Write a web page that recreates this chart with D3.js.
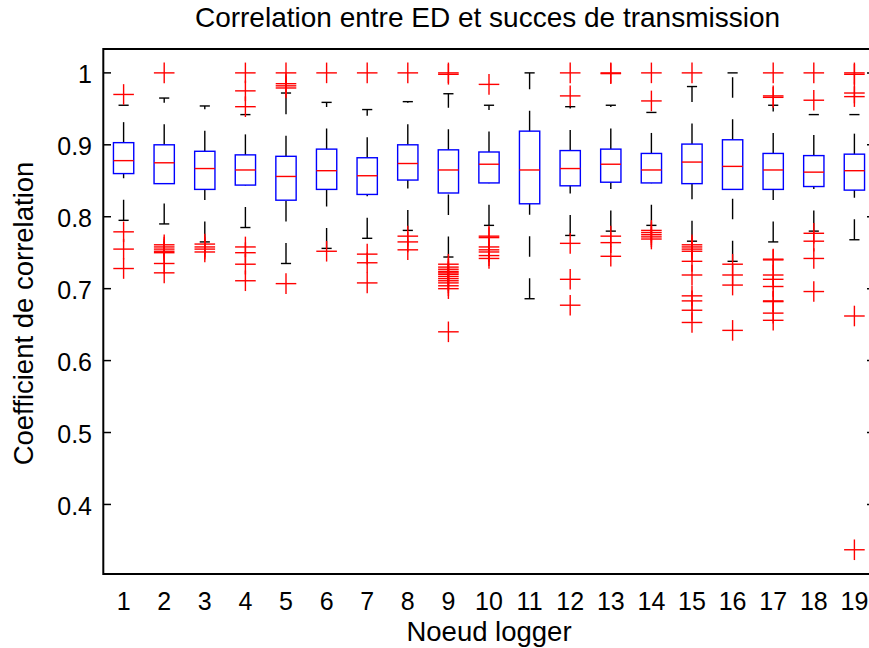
<!DOCTYPE html>
<html>
<head>
<meta charset="utf-8">
<script src="https://cdn.jsdelivr.net/npm/d3@7"></script>
<style>
  html, body { margin: 0; padding: 0; background: #fff; }
  svg { display: block; }
  text { font-family: "Liberation Sans", Arial, Helvetica, sans-serif; fill: #000; }
</style>
</head>
<body>
<svg id="chart" width="869" height="648"></svg>
<script>
// ---- data ----
const nodes = [1,2,3,4,5,6,7,8,9,10,11,12,13,14,15,16,17,18,19];
const whiskerHi = [0.955,0.965,0.954,0.942,0.972,0.959,0.949,0.960,0.971,0.955,1.000,0.953,0.955,0.945,0.981,1.000,0.955,0.942,0.942];
const q3        = [0.903,0.900,0.891,0.886,0.884,0.894,0.882,0.900,0.893,0.890,0.919,0.892,0.894,0.888,0.901,0.907,0.888,0.885,0.887];
const medians   = [0.878,0.875,0.867,0.865,0.856,0.864,0.857,0.874,0.865,0.873,0.865,0.867,0.873,0.865,0.876,0.870,0.865,0.862,0.864];
const q1        = [0.860,0.846,0.838,0.844,0.823,0.838,0.831,0.851,0.833,0.847,0.818,0.843,0.848,0.847,0.846,0.838,0.838,0.842,0.837];
const whiskerLo = [0.795,0.790,0.765,0.785,0.735,0.756,0.770,0.781,0.744,0.788,0.686,0.774,0.780,0.788,0.766,0.738,0.765,0.780,0.768];
const outliers = [
  [0.970,0.779,0.755,0.728],
  [1.0,0.761,0.758,0.755,0.752,0.750,0.735,0.722],
  [0.762,0.758,0.755,0.751],
  [1.0,0.975,0.953,0.758,0.750,0.734,0.711],
  [1.0,0.985,0.982,0.979,0.707],
  [1.0,0.752],
  [1.0,0.748,0.736,0.708],
  [1.0,0.773,0.765,0.754],
  [1.0,0.998,0.734,0.730,0.727,0.724,0.722,0.720,0.717,0.714,0.711,0.708,0.704,0.700,0.640],
  [0.984,0.773,0.771,0.758,0.754,0.751,0.746,0.742],
  [],
  [1.0,0.968,0.763,0.713,0.677],
  [1.0,0.999,0.773,0.764,0.745],
  [1.0,0.961,0.781,0.778,0.775,0.772,0.769],
  [1.0,0.761,0.758,0.755,0.752,0.738,0.719,0.690,0.683,0.670,0.653],
  [0.734,0.719,0.705,0.642],
  [1.0,0.968,0.966,0.741,0.740,0.719,0.713,0.703,0.683,0.682,0.666,0.656],
  [1.0,0.962,0.777,0.766,0.742,0.696],
  [1.0,0.998,0.972,0.967,0.662,0.337]
];
const yTicks = [0.4,0.5,0.6,0.7,0.8,0.9,1];
const yTickLabels = ["0.4","0.5","0.6","0.7","0.8","0.9","1"];
const titleText = "Correlation entre ED et succes de transmission";
const xLabelText = "Noeud logger";
const yLabelText = "Coefficient de correlation";

// ---- layout ----
const L = 103.3, R = 874.7, T = 49, B = 574;
const svg = d3.select("#chart");
const x = d3.scaleLinear().domain([0.5, 19.5]).range([L, R]);
const y = d3.scaleLinear().domain([0.3033, 1.0332]).range([B, T]);
const boxW = x(1.25) - x(1);      // half-width of a box (0.25 units)
const capW = boxW / 2;            // half-width of whisker cap
const mk = 10.3;                  // half-size of "+" markers
const lw = 1.4;

const g = svg.append("g");

// whiskers (dashed, drawn from lower value to higher value)
nodes.forEach((n, i) => {
  const cx = x(n);
  g.append("line").attr("x1", cx).attr("x2", cx)
    .attr("y1", y(q3[i])).attr("y2", y(whiskerHi[i]))
    .attr("stroke", "#000").attr("stroke-width", lw).attr("stroke-dasharray", "20.5,21.5");
  g.append("line").attr("x1", cx).attr("x2", cx)
    .attr("y1", y(whiskerLo[i])).attr("y2", y(q1[i]))
    .attr("stroke", "#000").attr("stroke-width", lw).attr("stroke-dasharray", "20.5,21.5");
  [whiskerHi[i], whiskerLo[i]].forEach(v => {
    g.append("line").attr("x1", cx - capW).attr("x2", cx + capW)
      .attr("y1", y(v)).attr("y2", y(v))
      .attr("stroke", "#000").attr("stroke-width", lw);
  });
});

// boxes
g.selectAll("rect.box").data(nodes).enter().append("rect")
  .attr("class", "box")
  .attr("x", d => x(d) - boxW)
  .attr("width", 2 * boxW)
  .attr("y", (d, i) => y(q3[i]))
  .attr("height", (d, i) => y(q1[i]) - y(q3[i]))
  .attr("fill", "none").attr("stroke", "#0000ff").attr("stroke-width", lw);

// medians
g.selectAll("line.med").data(nodes).enter().append("line")
  .attr("class", "med")
  .attr("x1", d => x(d) - boxW).attr("x2", d => x(d) + boxW)
  .attr("y1", (d, i) => y(medians[i])).attr("y2", (d, i) => y(medians[i]))
  .attr("stroke", "#ff0000").attr("stroke-width", lw);

// outliers
const pts = [];
nodes.forEach((n, i) => outliers[i].forEach(v => pts.push({n, v})));
const og = g.selectAll("g.out").data(pts).enter().append("g").attr("class", "out")
  .attr("transform", d => `translate(${x(d.n)},${y(d.v)})`);
og.append("line").attr("x1", -mk).attr("x2", mk).attr("y1", 0).attr("y2", 0)
  .attr("stroke", "#ff0000").attr("stroke-width", lw);
og.append("line").attr("x1", 0).attr("x2", 0).attr("y1", -mk).attr("y2", mk)
  .attr("stroke", "#ff0000").attr("stroke-width", lw);

// axes frame
const ax = svg.append("g");
const frameW = 2;
ax.append("rect").attr("x", L).attr("y", T).attr("width", R - L).attr("height", B - T)
  .attr("fill", "none").attr("stroke", "#000").attr("stroke-width", frameW);

// y ticks (inward on both sides)
const tl = 7.7;
yTicks.forEach((t, i) => {
  ax.append("line").attr("x1", L).attr("x2", L + tl).attr("y1", y(t)).attr("y2", y(t))
    .attr("stroke", "#000").attr("stroke-width", 1.5);
  ax.append("line").attr("x1", R).attr("x2", R - tl).attr("y1", y(t)).attr("y2", y(t))
    .attr("stroke", "#000").attr("stroke-width", 1.5);
  ax.append("text").attr("x", 92).attr("y", y(t) + 10.3)
    .attr("text-anchor", "end").attr("font-size", 25).text(yTickLabels[i]);
});

// x tick labels
nodes.forEach(n => {
  ax.append("text").attr("x", x(n)).attr("y", 610)
    .attr("text-anchor", "middle").attr("font-size", 25).text(String(n));
});

// title and labels
const cxAxes = (L + R) / 2;
svg.append("text").attr("x", cxAxes - 1.5).attr("y", 27).attr("text-anchor", "middle")
  .attr("font-size", 28).text(titleText);
svg.append("text").attr("x", cxAxes).attr("y", 641).attr("text-anchor", "middle")
  .attr("font-size", 27.5).text(xLabelText);
svg.append("text").attr("transform", `translate(33,${(T + B) / 2 + 2}) rotate(-90)`)
  .attr("text-anchor", "middle").attr("font-size", 27.5).text(yLabelText);
</script>
</body>
</html>
